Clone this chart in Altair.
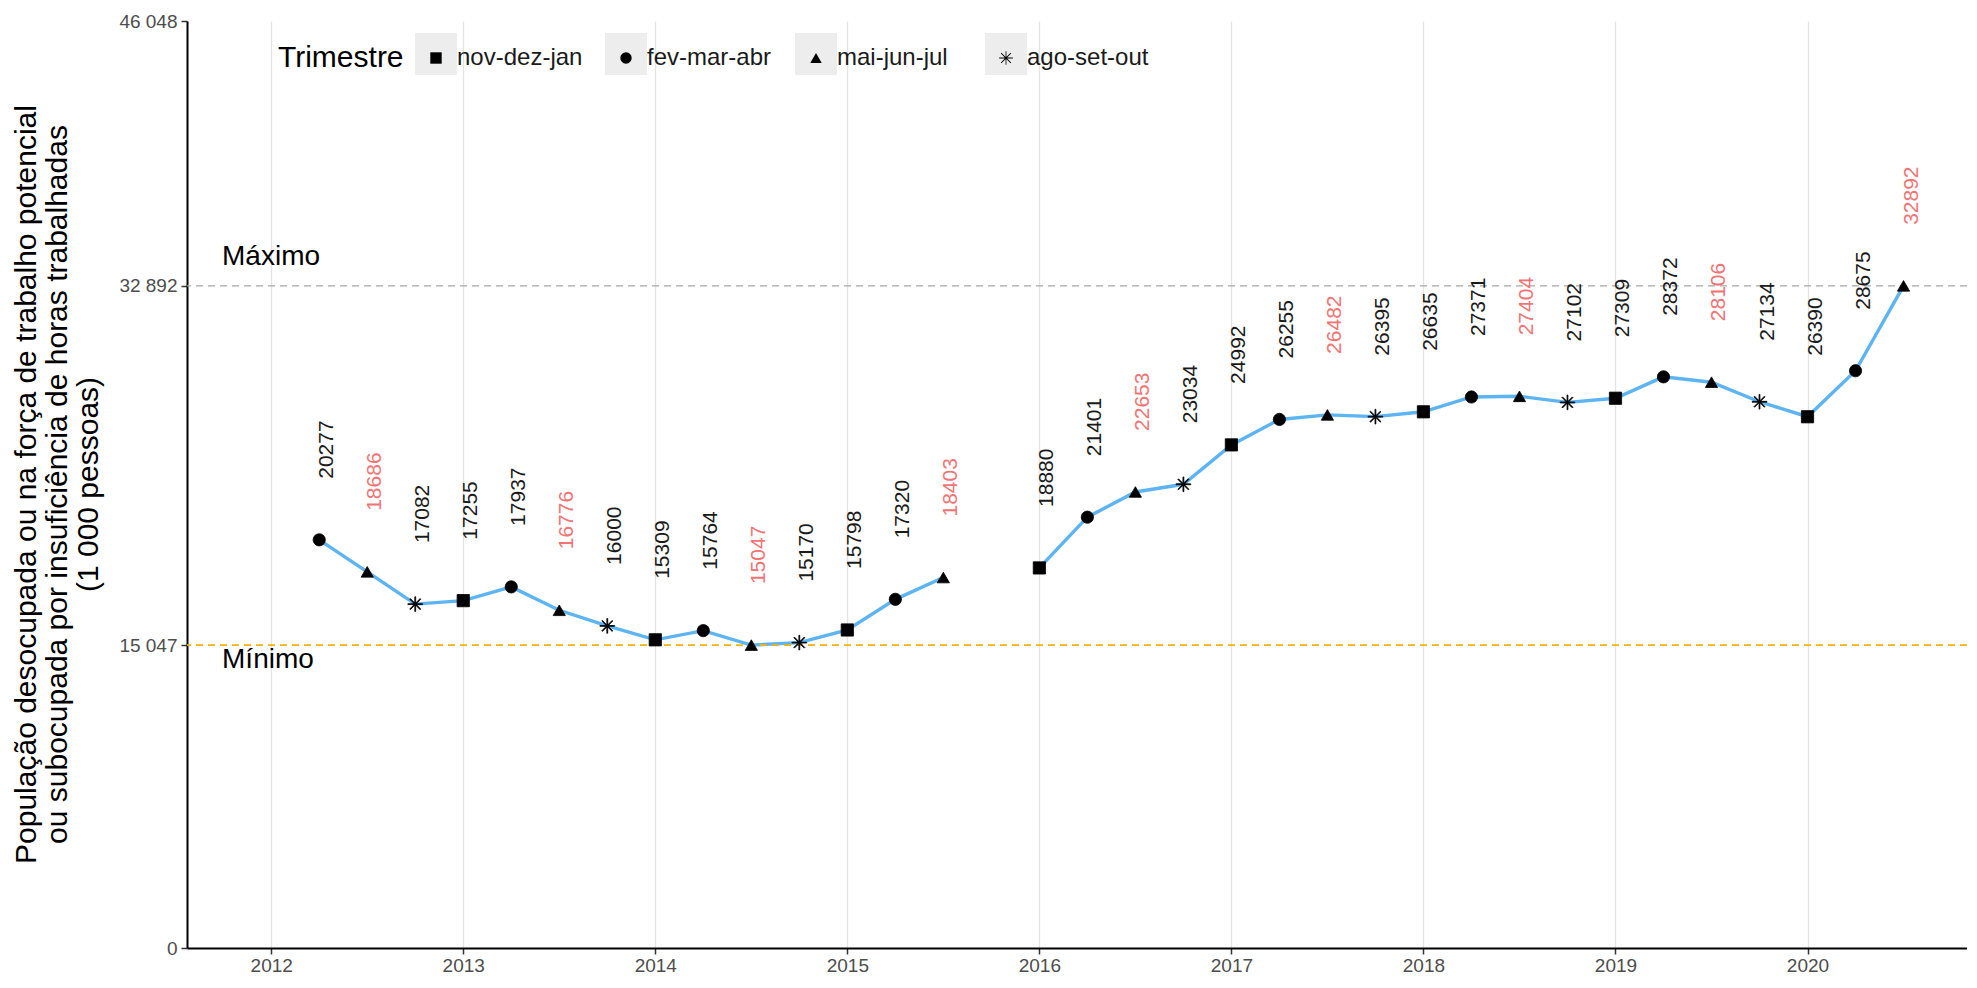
import altair as alt
import pandas as pd

# ---- data ----
anos = [2012, 2012, 2012, 2013, 2013, 2013, 2013, 2014, 2014, 2014, 2014, 2015, 2015, 2015,
        2016, 2016, 2016, 2016, 2017, 2017, 2017, 2017, 2018, 2018, 2018, 2018,
        2019, 2019, 2019, 2019, 2020, 2020, 2020]
trimestres = ["fev-mar-abr", "mai-jun-jul", "ago-set-out",
              "nov-dez-jan", "fev-mar-abr", "mai-jun-jul", "ago-set-out",
              "nov-dez-jan", "fev-mar-abr", "mai-jun-jul", "ago-set-out",
              "nov-dez-jan", "fev-mar-abr", "mai-jun-jul",
              "nov-dez-jan", "fev-mar-abr", "mai-jun-jul", "ago-set-out",
              "nov-dez-jan", "fev-mar-abr", "mai-jun-jul", "ago-set-out",
              "nov-dez-jan", "fev-mar-abr", "mai-jun-jul", "ago-set-out",
              "nov-dez-jan", "fev-mar-abr", "mai-jun-jul", "ago-set-out",
              "nov-dez-jan", "fev-mar-abr", "mai-jun-jul"]
valores = [20277, 18686, 17082, 17255, 17937, 16776, 16000, 15309, 15764, 15047, 15170,
           15798, 17320, 18403,
           18880, 21401, 22653, 23034, 24992, 26255, 26482, 26395, 26635, 27371, 27404,
           27102, 27309, 28372, 28106, 27134, 26390, 28675, 32892]
ordem_trimestres = ["nov-dez-jan", "fev-mar-abr", "mai-jun-jul", "ago-set-out"]
fracao_trimestre = [0.0, 0.25, 0.5, 0.75]
ref_valores = [32892, 15047]
ref_rotulos = ["Máximo", "Mínimo"]
y_ticks = [0, 15047, 32892, 46048]
x_ticks = [2012, 2013, 2014, 2015, 2016, 2017, 2018, 2019, 2020]
titulo_y = ["População desocupada ou na força de trabalho potencial",
            "ou subocupada por insuficiência de horas trabalhadas",
            "(1 000 pessoas)"]

FONT = "Liberation Sans"
BLUE = "#5DB4F2"
RED = "#F07474"
# asterisk built from four thin filled bars (all with the same winding)
ASTER = ("M-0.07,-1.2L0.07,-1.2L0.07,1.2L-0.07,1.2Z"
         "M-1.2,-0.07L1.2,-0.07L1.2,0.07L-1.2,0.07Z"
         "M-0.8,-0.9L0.9,0.8L0.8,0.9L-0.9,-0.8Z"
         "M-0.9,0.8L0.8,-0.9L0.9,-0.8L-0.8,0.9Z")

desloc = dict(zip(ordem_trimestres, fracao_trimestre))
df = pd.DataFrame({"ano": anos, "trimestre": trimestres, "valor": valores})
df["t"] = df["ano"] + df["trimestre"].map(desloc)
df["grupo"] = df["t"].gt(2015.6).map({False: "a", True: "b"})
# separate key (prefixed) so that the grey key-box legend is not merged with the shape legend
df["chave"] = "_" + df["trimestre"]
ordem_chave = ["_" + t for t in ordem_trimestres]

ref_max = pd.DataFrame({"valor": [ref_valores[0]], "rotulo": [ref_rotulos[0]]})
ref_min = pd.DataFrame({"valor": [ref_valores[1]], "rotulo": [ref_rotulos[1]]})

xs = alt.Scale(domain=[2011.5615, 2020.8305], nice=False, zero=False)
ys = alt.Scale(domain=[0, 46048], nice=False, zero=True)

x_axis = alt.Axis(values=x_ticks, format="d", title=None, grid=True,
                  gridColor="#E4E4E4", gridWidth=1.3,
                  domainColor="black", domainWidth=2, tickColor="#333333",
                  tickSize=6, tickWidth=1.5, labelColor="#4D4D4D",
                  labelFontSize=19, labelPadding=2, labelFont=FONT)
y_axis = alt.Axis(values=y_ticks,
                  labelExpr="replace(format(datum.value, ','), ',', ' ')",
                  grid=False, title=titulo_y, titleFontSize=30,
                  titleFontWeight="normal", titleColor="black", titleFont=FONT,
                  titleAngle=270, titleX=-161, titleY=463, titleAlign="center",
                  titleBaseline="middle", titleLineHeight=31,
                  domainColor="black", domainWidth=2, tickColor="#333333",
                  tickSize=6, tickWidth=1.5, labelColor="#4D4D4D",
                  labelFontSize=19, labelPadding=4, labelFont=FONT)

X = alt.X("t:Q", scale=xs, axis=x_axis)
Y = alt.Y("valor:Q", scale=ys, axis=y_axis)

# invisible layer that only provides the grey legend key boxes
caixas = alt.Chart(df).mark_point(filled=True, size=1, opacity=1).encode(
    x=alt.X("t:Q", scale=xs),
    y=alt.Y("valor:Q", scale=ys),
    color=alt.Color("chave:N",
                    scale=alt.Scale(domain=ordem_chave,
                                    range=["#EDEDED", "#EDEDED", "#EDEDED", "#EDEDED"]),
                    legend=alt.Legend(title=None, orient="none", legendX=228, legendY=12,
                                      direction="horizontal", symbolType="square",
                                      symbolSize=1764, symbolStrokeWidth=0,
                                      symbolOpacity=1, labelFont=FONT, labelFontSize=4,
                                      labelExpr="''", gridAlign="all",
                                      labelOffset=0, columnPadding=148)))

linha = alt.Chart(df).mark_line(color=BLUE, strokeWidth=3.4).encode(
    x=X, y=Y, detail="grupo:N")

regra_max = alt.Chart(ref_max).mark_rule(color="#A8A8A8", strokeWidth=1.4,
                                         strokeDash=[7, 5]).encode(y=alt.Y("valor:Q", scale=ys))
regra_min = alt.Chart(ref_min).mark_rule(color="#F2B212", strokeWidth=1.6,
                                         strokeDash=[7, 5]).encode(y=alt.Y("valor:Q", scale=ys))

texto_max = alt.Chart(ref_max).mark_text(align="left", baseline="alphabetic", dy=-21,
                                         fontSize=28, font=FONT, color="black").encode(
    x=alt.datum(2011.744), y=alt.Y("valor:Q", scale=ys), text="rotulo:N")
texto_min = alt.Chart(ref_min).mark_text(align="left", baseline="alphabetic", dy=23,
                                         fontSize=28, font=FONT, color="black").encode(
    x=alt.datum(2011.744), y=alt.Y("valor:Q", scale=ys), text="rotulo:N")

pontos = alt.Chart(df).mark_point(filled=True, size=150, fill="black", stroke="black",
                                  strokeWidth=0.8, opacity=1).encode(
    x=alt.X("t:Q", scale=xs),
    y=alt.Y("valor:Q", scale=ys),
    shape=alt.Shape("trimestre:N",
                    scale=alt.Scale(domain=ordem_trimestres,
                                    range=["square", "circle", "triangle-up", ASTER]),
                    legend=alt.Legend(title="Trimestre", orient="none", legendX=91,
                                      legendY=25, direction="horizontal",
                                      titleOrient="left", titleFontSize=30,
                                      titleFontWeight="normal", titleColor="black",
                                      titleFont=FONT, labelFont=FONT,
                                      labelFontSize=24, labelColor="#1A1A1A",
                                      symbolSize=130, symbolFillColor="black",
                                      symbolStrokeColor="black", symbolStrokeWidth=0.8,
                                      gridAlign="all",
                                      labelOffset=9, columnPadding=31,
                                      titlePadding=20)))

rotulos = alt.Chart(df).mark_text(angle=270, align="left", baseline="middle", dx=61,
                                  dy=8, fontSize=21, font=FONT).encode(
    x=alt.X("t:Q", scale=xs),
    y=alt.Y("valor:Q", scale=ys),
    text=alt.Text("valor:Q", format="d"),
    color=alt.condition(alt.datum.trimestre == "mai-jun-jul",
                        alt.value(RED), alt.value("#1A1A1A")))

chart = alt.layer(caixas, linha, regra_max, regra_min, texto_max, texto_min, pontos,
                  rotulos).properties(
    width=1780, height=927,
    padding={"left": 179, "top": 13, "right": 0, "bottom": 28},
    autosize=alt.AutoSizeParams(type="none"),
    background="white",
).configure_view(stroke=None)

chart.save("out.html", embed_options={"renderer": "svg", "actions": False})
